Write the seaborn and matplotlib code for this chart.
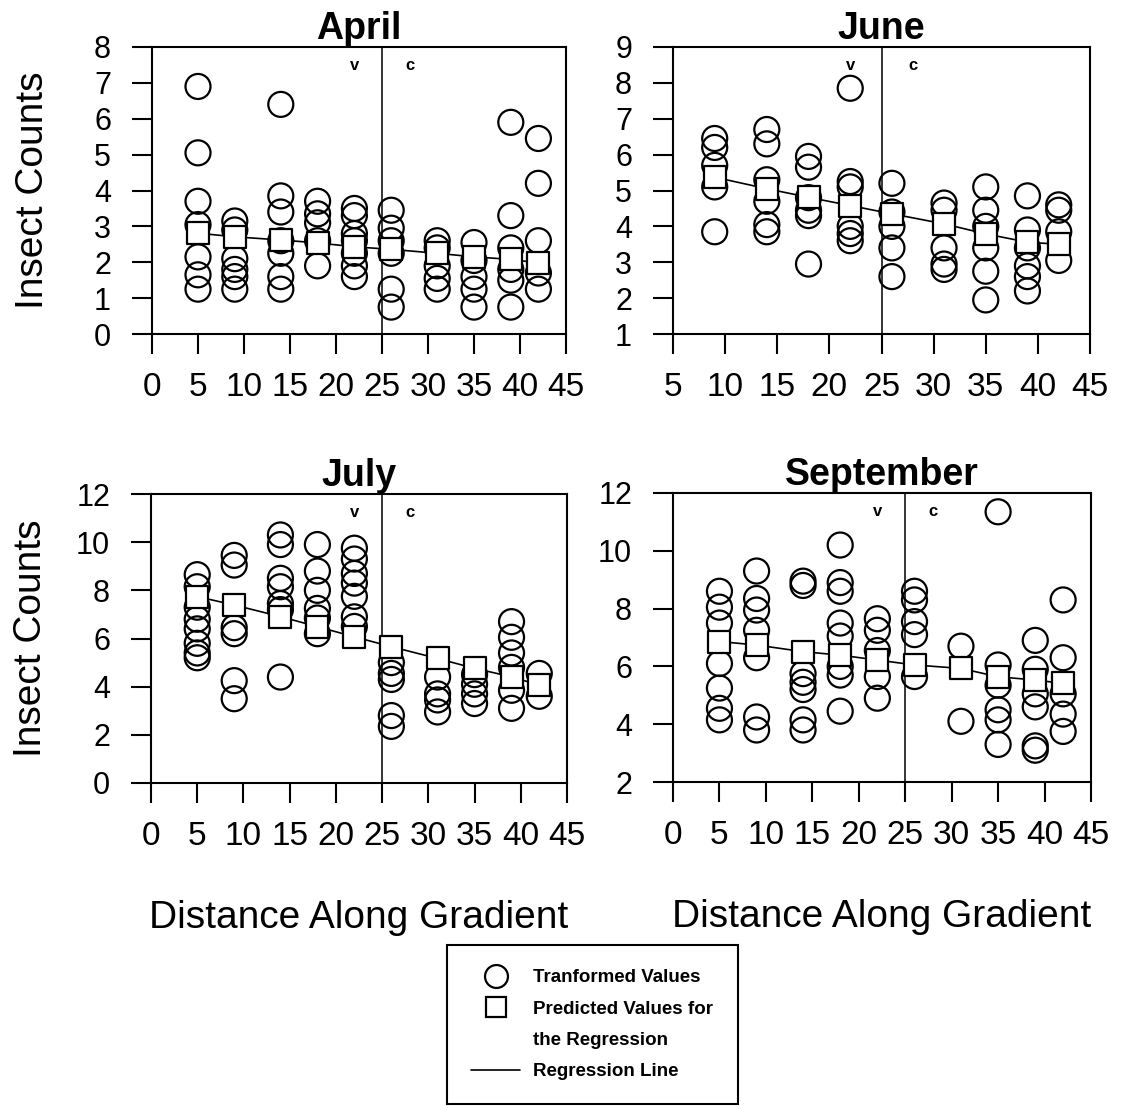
import pandas as pd
import matplotlib
matplotlib.use("Agg")
import matplotlib.pyplot as plt
import seaborn as sns
from matplotlib.lines import Line2D

# sampling positions along the gradient
sites = [5, 9, 14, 18, 22, 26, 31, 35, 39, 42]
june_sites = [9, 14, 18, 22, 26, 31, 35, 39, 42]

# transformed insect counts, one list per site
april_obs = [
    [6.9, 5.05, 3.7, 3.05, 2.15, 1.65, 1.25],
    [3.15, 2.9, 2.1, 1.8, 1.6, 1.25],
    [6.4, 3.85, 3.4, 2.6, 2.25, 1.6, 1.25],
    [3.7, 3.35, 3.1, 2.6, 1.9],
    [3.5, 3.3, 2.8, 2.6, 2.25, 1.9, 1.6],
    [3.45, 2.95, 2.6, 2.25, 1.25, 0.75],
    [2.6, 2.4, 1.9, 1.55, 1.25],
    [2.55, 2.05, 1.6, 1.25, 0.75],
    [5.9, 3.3, 2.4, 1.8, 1.5, 0.75],
    [5.45, 4.2, 2.6, 1.7, 1.25],
]
april_pred = [2.81, 2.71, 2.62, 2.54, 2.43, 2.36, 2.25, 2.15, 2.08, 1.98]

june_obs = [
    [6.45, 6.2, 5.7, 5.1, 3.85],
    [6.7, 6.3, 5.3, 4.7, 4.05, 3.85],
    [5.95, 5.65, 4.8, 4.45, 4.3, 2.95],
    [7.85, 5.25, 5.1, 4.0, 3.8, 3.6],
    [5.2, 4.4, 4.0, 3.4, 2.6],
    [4.65, 4.45, 3.4, 2.95, 2.8],
    [5.1, 4.45, 4.0, 3.4, 2.75, 1.95],
    [4.85, 3.9, 3.4, 2.9, 2.6, 2.2],
    [4.6, 4.45, 3.85, 3.05],
]
june_pred = [5.37, 5.05, 4.81, 4.58, 4.35, 4.07, 3.79, 3.56, 3.5]

july_obs = [
    [8.65, 8.15, 7.3, 6.8, 6.4, 5.8, 5.4, 5.2],
    [9.45, 9.05, 6.45, 6.2, 4.25, 3.5],
    [10.3, 9.9, 8.5, 8.15, 7.45, 7.2, 4.4],
    [9.9, 8.8, 8.0, 7.25, 6.85, 6.2],
    [9.75, 9.3, 8.7, 8.3, 7.75, 6.9, 6.5],
    [5.0, 4.55, 4.3, 2.8, 2.35],
    [4.4, 3.7, 3.45, 2.95],
    [4.5, 4.1, 3.7, 3.3],
    [6.7, 6.05, 5.4, 4.8, 3.85, 3.1],
    [4.55, 3.6],
]
july_pred = [7.74, 7.39, 6.91, 6.49, 6.07, 5.66, 5.17, 4.76, 4.41, 4.06]

sept_obs = [
    [8.6, 8.05, 7.5, 6.1, 5.25, 4.55, 4.15],
    [9.3, 8.35, 7.95, 7.25, 6.3, 4.25, 3.8],
    [8.95, 8.8, 5.75, 5.45, 5.2, 4.15, 3.8],
    [10.2, 8.9, 8.6, 7.5, 7.05, 6.0, 5.7, 4.45],
    [7.65, 7.25, 6.55, 5.65, 4.9],
    [8.6, 8.3, 7.55, 7.1, 5.65],
    [6.7, 4.1],
    [11.35, 6.05, 5.35, 4.5, 4.15, 3.3],
    [6.9, 5.9, 5.05, 4.6, 3.25, 3.1],
    [8.3, 6.3, 5.05, 4.35, 3.75],
]
sept_pred = [6.86, 6.74, 6.51, 6.39, 6.22, 6.05, 5.93, 5.64, 5.53, 5.41]

W, H = 1124, 1110


def long_table(xs, obs):
    rows = [(x, v) for x, vals in zip(xs, obs) for v in vals]
    return pd.DataFrame(rows, columns=["distance", "count"])


def px_rect(left, right, top, bottom):
    return [left / W, 1 - bottom / H, (right - left) / W, (bottom - top) / H]


def draw_panel(fig, rect, title, xs, obs, pred, xlo, ylim, ystep, left_col, bottom_row):
    ax = fig.add_axes(rect)
    ax.axvline(25, color="black", lw=1.1, zorder=1)
    sns.lineplot(x=xs, y=pred, color="black", lw=1.2, ax=ax, zorder=2)
    sns.scatterplot(data=long_table(xs, obs), x="distance", y="count", marker="o",
                    s=18 ** 2, facecolors="none", edgecolor="black", linewidth=1.6,
                    ax=ax, zorder=3)
    sns.scatterplot(x=xs, y=pred, marker="s", s=16 ** 2, color="white",
                    edgecolor="black", linewidth=1.6, ax=ax, zorder=4)

    ax.set_xlim(xlo, 45)
    ax.set_ylim(*ylim)
    ax.set_xticks(range(xlo, 46, 5))
    ax.set_yticks(range(ylim[0], ylim[1] + 1, ystep))
    ax.tick_params(direction="out", length=14.5, width=1.5, color="black",
                   labelcolor="black")
    ax.tick_params(axis="x", pad=13, labelsize=24)
    ax.tick_params(axis="y", pad=15, labelsize=22)
    for sp in ax.spines.values():
        sp.set_visible(True)
        sp.set_color("black")
        sp.set_linewidth(1.5)

    ax.set_title(title, fontsize=27, fontweight="bold", pad=2)
    ax.text(22, 0.935, "v", transform=ax.get_xaxis_transform(), fontsize=12,
            fontweight="bold", ha="center", va="center")
    ax.text(28, 0.935, "c", transform=ax.get_xaxis_transform(), fontsize=12,
            fontweight="bold", ha="center", va="center")

    ax.set_xlabel("")
    ax.set_ylabel("")
    if left_col:
        ax.set_ylabel("Insect Counts", fontsize=28)
        ax.yaxis.set_label_coords(-0.245, 0.5)
    if bottom_row:
        ax.set_xlabel("Distance Along Gradient", fontsize=28)
        ax.xaxis.set_label_coords(0.5, -0.405)
    return ax


sns.set_theme(style="ticks")
plt.rcParams["font.family"] = ["Liberation Sans", "DejaVu Sans"]
plt.rcParams["text.color"] = "black"
plt.rcParams["axes.labelcolor"] = "black"

fig = plt.figure(figsize=(W / 100, H / 100), dpi=100)

draw_panel(fig, px_rect(152, 566, 47, 334), "April", sites, april_obs, april_pred,
           0, (0, 8), 1, True, False)
draw_panel(fig, px_rect(673, 1090, 47, 334), "June", june_sites, june_obs, june_pred,
           5, (1, 9), 1, False, False)
draw_panel(fig, px_rect(151, 567, 494, 783), "July", sites, july_obs, july_pred,
           0, (0, 12), 2, True, True)
draw_panel(fig, px_rect(673, 1091, 493, 782), "September", sites, sept_obs, sept_pred,
           0, (2, 12), 2, False, True)

handles = [
    Line2D([], [], marker="o", ls="none", ms=16.5, mfc="none", mec="black", mew=1.6),
    Line2D([], [], marker="s", ls="none", ms=14.5, mfc="white", mec="black", mew=1.6),
    Line2D([], [], ls="none"),
    Line2D([], [], color="black", lw=1.2),
]
labels = ["Tranformed Values", "Predicted Values for", "the Regression", "Regression Line"]
leg = fig.legend(handles, labels, loc="upper left", bbox_to_anchor=(447 / W, 1 - 945 / H),
                 borderaxespad=0, fancybox=False, framealpha=1, edgecolor="black",
                 borderpad=1.3, labelspacing=0.75, handlelength=2.6, handletextpad=0.7,
                 prop={"weight": "bold", "size": 13.5})
leg.get_frame().set_linewidth(1.5)

fig.savefig("out.png", dpi=100, facecolor="white")
